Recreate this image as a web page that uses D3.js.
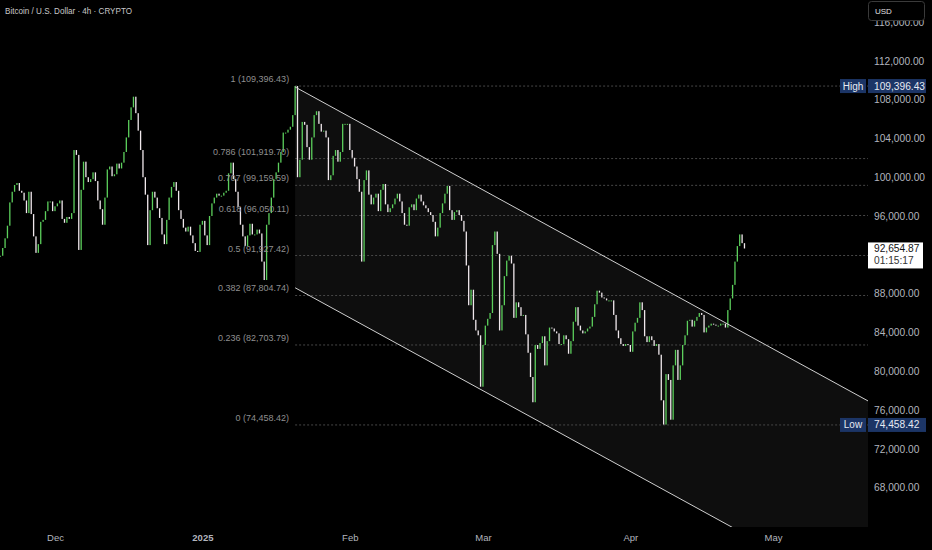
<!DOCTYPE html>
<html><head><meta charset="utf-8">
<script src="https://cdn.jsdelivr.net/npm/d3@7"></script>
<style>html,body{margin:0;background:#000;overflow:hidden}svg{display:block}</style>
</head><body><svg id="c" width="932" height="550"></svg>
<script>
const title = "Bitcoin / U.S. Dollar · 4h · CRYPTO";
const startTime = "2024-11-19T12:00:00Z";
const stepHours = 12;
// closes in thousands USD (12h sampling)
const closes = [
91.9,92.7,93.7,95.0,97.4,98.5,99.2,99.4,98.6,98.4,
97.6,96.3,98.5,96.2,93.9,92.2,93.1,95.4,95.6,96.5,
97.5,97.5,96.5,97.0,97.3,97.6,95.7,95.3,95.9,95.7,
96.3,102.8,102.3,92.5,98.7,101.6,100.0,99.5,99.8,100.5,
99.6,97.6,96.7,95.1,97.9,100.8,101.1,100.1,100.3,101.4,
100.9,101.5,102.6,104.1,105.9,107.2,108.3,106.6,104.8,102.8,
100.0,98.2,93.0,96.6,98.5,97.9,96.8,95.8,94.1,93.1,
95.6,97.9,99.0,99.5,98.6,96.6,95.7,94.8,94.4,94.9,
94.0,93.2,92.4,92.3,95.1,95.5,94.0,93.0,96.0,97.3,
97.9,98.3,98.1,98.1,98.4,98.6,100.4,101.5,99.8,98.5,
96.9,95.1,93.9,92.9,94.0,95.2,94.1,94.1,94.6,94.2,
91.3,89.4,95.1,96.3,97.9,99.8,100.5,101.5,102.6,104.6,
104.6,104.9,105.2,106.4,109.4,100.0,101.8,105.7,105.4,103.1,
101.8,104.1,106.4,106.8,105.5,104.7,104.8,104.1,99.7,100.2,
102.2,102.8,101.6,102.6,105.5,105.5,105.5,102.8,102.0,101.1,
99.8,98.5,91.3,99.7,100.7,98.2,97.2,97.9,98.3,96.5,
98.7,99.3,97.2,96.4,96.8,97.2,97.8,98.3,97.5,96.3,
95.1,95.0,96.9,97.2,96.6,97.8,98.2,97.5,97.1,96.8,
96.4,96.1,95.4,93.9,94.8,96.3,97.3,98.3,99.1,96.6,
95.6,96.4,96.6,96.1,95.5,94.4,90.9,86.8,88.4,85.3,
84.2,83.7,78.4,82.7,84.7,85.4,86.0,93.0,94.4,92.1,
84.2,86.8,89.8,91.4,91.9,91.1,85.5,87.1,86.6,85.7,
85.8,83.8,81.9,79.4,76.8,82.7,82.3,82.9,83.6,80.6,
83.1,84.5,84.4,84.1,83.9,82.8,82.8,83.7,83.3,81.8,
83.1,85.1,86.6,84.7,84.2,83.9,84.1,84.4,84.6,85.6,
86.9,88.3,88.1,87.6,87.5,87.3,87.3,87.3,85.8,84.2,
83.4,82.8,82.6,82.8,82.7,82.0,84.1,85.0,85.5,87.1,
86.3,83.6,83.0,83.6,83.2,82.6,82.8,81.7,77.0,74.5,
79.7,79.1,75.0,80.6,82.2,79.1,80.6,82.7,83.7,85.2,
85.3,84.6,85.2,85.6,86.0,85.8,84.0,84.5,84.7,84.9,
84.8,84.7,84.7,84.9,84.9,84.5,86.3,87.5,88.9,91.3,
92.9,94.1,93.2,92.65
];
// 92,000 is hidden behind the last-price tag in the reference
const priceTicks = [68000,72000,76000,80000,84000,88000,96000,100000,104000,108000,112000,116000];
const monthTicks = ["2024-12-01","2025-01-01","2025-02-01","2025-03-01","2025-04-01","2025-05-01"];
const monthLabels = ["Dec","2025","Feb","Mar","Apr","May"];
const fibLevels = [1,0.786,0.707,0.618,0.5,0.382,0.236,0];
const swingHigh = 109396.43, swingLow = 74458.42;
const swingHighTime = "2025-01-20T12:00:00Z";
const lastPrice = 92654.87, countdown = "01:15:17";
const channelStart = {time:"2025-01-20T12:00:00Z", price:109300};
const channelEnd = {time:"2025-05-21T00:00:00Z", price:76930};
const channelWidth = 20700;

const W = 932, H = 550, plotR = 868, plotB = 527;
const svg = d3.select("#c");
svg.append("rect").attr("width",W).attr("height",H).attr("fill","#000");

const x = d3.scaleUtc().domain([new Date("2024-12-01T00:00:00Z"), new Date("2025-05-01T00:00:00Z")]).range([55,773]);
const y = d3.scaleLinear().domain([63938,118268]).range([plotB,0]);

svg.append("defs").append("clipPath").attr("id","plot").append("rect").attr("x",0).attr("y",0).attr("width",plotR).attr("height",plotB);
const plot = svg.append("g").attr("clip-path","url(#plot)");

const font = "'Liberation Sans', Arial, sans-serif";

// channel fill
const t0 = new Date(channelStart.time), t1 = new Date(channelEnd.time);
const up = [[x(t0), y(channelStart.price)],[x(t1), y(channelEnd.price)]];
const lo = [[x(t0), y(channelStart.price-channelWidth)],[x(t1), y(channelEnd.price-channelWidth)]];
plot.append("path").attr("d", d3.line()([up[0],up[1],lo[1],lo[0]])+"Z").attr("fill","rgba(255,255,255,0.055)");

// fib levels
const fibX0 = x(new Date(swingHighTime));
const fmt2 = d3.format(",.2f");
fibLevels.forEach(l => {
  const p = swingLow + l*(swingHigh-swingLow);
  plot.append("line").attr("x1",fibX0).attr("x2",plotR).attr("y1",y(p)).attr("y2",y(p))
    .attr("stroke","#474747").attr("stroke-width",1).attr("stroke-dasharray","2,2");
  svg.append("text").attr("x",fibX0-6).attr("y",y(p)-4).attr("text-anchor","end")
    .attr("font-family",font).attr("font-size",9).attr("fill","#8f8f8f")
    .text(`${l} (${fmt2(p)})`);
});

// candles
const t00 = new Date(startTime).getTime();
const data = closes.map((c,i)=>({t:new Date(t00 + i*stepHours*3600e3), o:(i?closes[i-1]:c)*1000, c:c*1000}));
plot.append("g").selectAll("rect").data(data).join("rect")
  .attr("x", d=>x(d.t)-0.65).attr("width",1.3)
  .attr("y", d=>y(Math.max(d.o,d.c)))
  .attr("height", d=>Math.max(1, Math.abs(y(d.o)-y(d.c))))
  .attr("fill", d=>d.c>=d.o ? "#5ccf5c" : "#f0e8ec");

// channel lines
plot.append("path").attr("d", d3.line()(up)).attr("stroke","#cfcfcf").attr("stroke-width",1).attr("fill","none");
plot.append("path").attr("d", d3.line()(lo)).attr("stroke","#cfcfcf").attr("stroke-width",1).attr("fill","none");

// right axis
const ya = svg.append("g").attr("transform",`translate(${plotR},0)`)
  .call(d3.axisRight(y).tickValues(priceTicks).tickFormat(fmt2).tickSize(0).tickPadding(6));
ya.select(".domain").remove();
ya.selectAll("text").attr("font-family",font).attr("font-size",10.2).attr("fill","#b2b5be");

// bottom axis
const xa = svg.append("g").attr("transform",`translate(0,${plotB})`)
  .call(d3.axisBottom(x).tickValues(monthTicks.map(d=>new Date(d+"T00:00:00Z"))).tickFormat((d,i)=>monthLabels[i]).tickSize(0).tickPadding(7));
xa.select(".domain").remove();
xa.selectAll("text").attr("font-family",font).attr("font-size",9.5).attr("fill","#b2b5be")
  .attr("font-weight",(d,i)=>monthLabels[i]==="2025"?"bold":"normal");

// High / Low labels
function tag(label, p){
  const cy = y(p);
  svg.append("rect").attr("x",840).attr("y",cy-7).attr("width",26).attr("height",14).attr("fill","#1c3566");
  svg.append("rect").attr("x",868).attr("y",cy-7).attr("width",58).attr("height",14).attr("fill","#1c3566");
  svg.append("text").attr("x",853).attr("y",cy+3.5).attr("text-anchor","middle").attr("font-family",font).attr("font-size",10).attr("fill","#e6eaf2").text(label);
  svg.append("text").attr("x",874).attr("y",cy+3.5).attr("font-family",font).attr("font-size",10.2).attr("fill","#e6eaf2").text(fmt2(p));
}
tag("High", swingHigh);
tag("Low", swingLow);

// last price box
const ly = y(lastPrice);
svg.append("rect").attr("x",868).attr("y",ly-6).attr("width",55).attr("height",26).attr("fill","#ffffff");
svg.append("text").attr("x",874).attr("y",ly+4).attr("font-family",font).attr("font-size",10.2).attr("fill","#111").text(fmt2(lastPrice));
svg.append("text").attr("x",874).attr("y",ly+16).attr("font-family",font).attr("font-size",10.2).attr("fill","#333").text(countdown);

// USD button (covers the top tick label like the reference)
svg.append("rect").attr("x",868.5).attr("y",1.5).attr("width",56).attr("height",19).attr("rx",3).attr("fill","#000").attr("stroke","#3a3a3a");
svg.append("text").attr("x",875).attr("y",14).attr("font-family",font).attr("font-size",8).attr("fill","#e0e0e0").text("USD");

// title
svg.append("text").attr("x",5).attr("y",13.5).attr("font-family",font).attr("font-size",9.5).attr("fill","#c8c8c8")
  .attr("textLength",127).attr("lengthAdjust","spacingAndGlyphs").text(title);
</script></body></html>
